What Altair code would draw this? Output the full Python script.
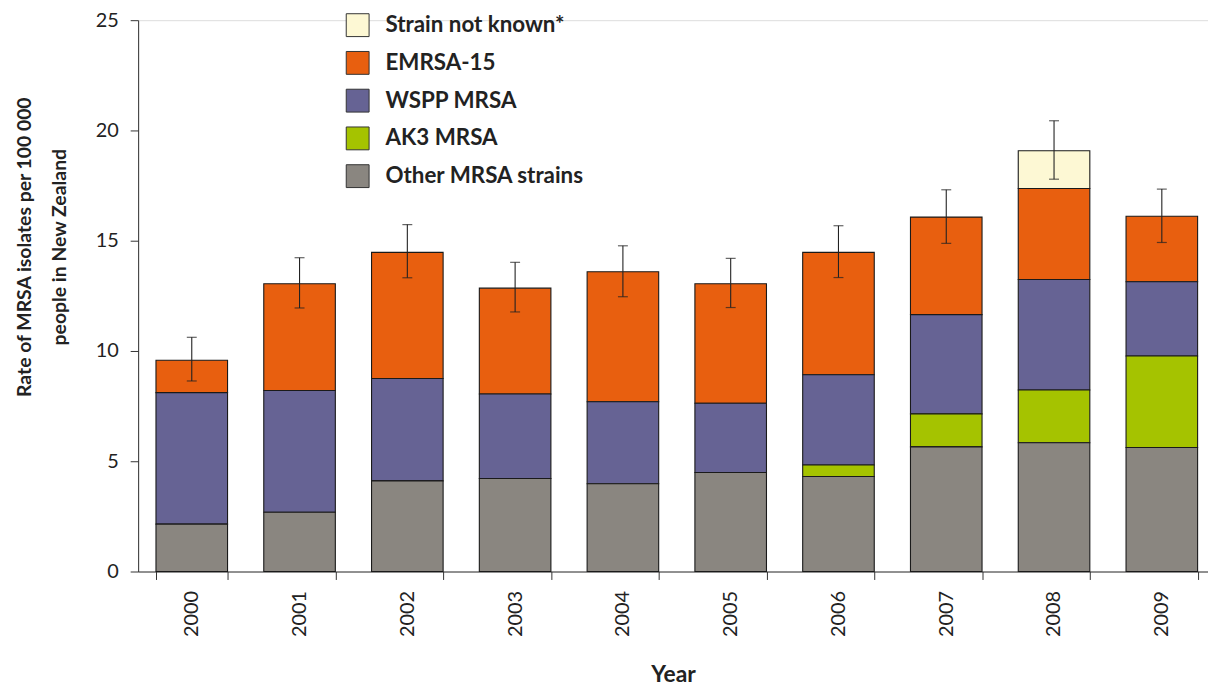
import altair as alt
import pandas as pd

years = ["2000", "2001", "2002", "2003", "2004", "2005", "2006", "2007", "2008", "2009"]
other = [2.15, 2.69, 4.11, 4.22, 3.98, 4.49, 4.31, 5.65, 5.84, 5.62]
ak3 = [0, 0, 0, 0, 0, 0, 0.52, 1.50, 2.39, 4.15]
wspp = [5.96, 5.52, 4.64, 3.83, 3.72, 3.14, 4.09, 4.50, 5.01, 3.37]
emrsa = [1.47, 4.84, 5.72, 4.80, 5.89, 5.42, 5.55, 4.42, 4.13, 2.97]
unknown = [0, 0, 0, 0, 0, 0, 0, 0, 1.71, 0]
err_low = [8.64, 11.95, 13.32, 11.77, 12.46, 11.97, 13.33, 14.88, 17.79, 14.92]
err_high = [10.62, 14.23, 15.73, 14.02, 14.77, 14.20, 15.68, 17.31, 20.44, 17.34]

series_names = ["Strain not known*", "EMRSA-15", "WSPP MRSA", "AK3 MRSA", "Other MRSA strains"]
series_colors = ["#FDF8D4", "#E85F0F", "#666394", "#A5C300", "#8A8680"]
stack_rank = {"Other MRSA strains": 0, "AK3 MRSA": 1, "WSPP MRSA": 2, "EMRSA-15": 3, "Strain not known*": 4}

rows = []
for name, vals in zip(series_names, [unknown, emrsa, wspp, ak3, other]):
    for y, v in zip(years, vals):
        if v > 0:
            rows.append({"Year": y, "Strain": name, "Rate": v, "rank": stack_rank[name]})
df = pd.DataFrame(rows)
err = pd.DataFrame({"Year": years, "low": err_low, "high": err_high})

FONT = "Lato"
xscale = alt.Scale(domain=years, paddingInner=0.336, paddingOuter=0.131, align=0.632)
xenc = alt.X("Year:N", scale=xscale,
             axis=alt.Axis(title="Year", labelAngle=270, tickBand="extent", tickSize=8,
                           labelPadding=11, titlePadding=27, labelFontSize=20,
                           titleFontSize=23, titleFontWeight="bold", labelColor="#222",
                           titleColor="#222", domainColor="#333", tickColor="#333"))

bars = alt.Chart(df).mark_bar(stroke="#1a1a1a", strokeWidth=1.1, opacity=1).encode(
    x=xenc,
    y=alt.Y("sum(Rate):Q", scale=alt.Scale(domain=[0, 25], nice=False),
            axis=alt.Axis(title=["Rate of  MRSA isolates per 100 000", "people in New Zealand"],
                          values=[0, 5, 10, 15, 20, 25], grid=False, tickSize=8,
                          labelPadding=12, titlePadding=26, labelFontSize=20,
                          titleFontSize=19.5, titleFontWeight="bold", titleLineHeight=35,
                          titleY=228,
                          labelColor="#222", titleColor="#222", domainColor="#333",
                          tickColor="#333")),
    color=alt.Color("Strain:N", scale=alt.Scale(domain=series_names, range=series_colors),
                    legend=alt.Legend(title=None, orient="none", legendX=209, legendY=-7,
                                      symbolType="square", symbolSize=529,
                                      symbolStrokeColor="#333", symbolStrokeWidth=1,
                                      labelFontSize=22.5, labelFontWeight="bold",
                                      labelColor="#222", rowPadding=10, labelOffset=16,
                                      labelLimit=0, padding=0, symbolOpacity=1)),
    order=alt.Order("rank:Q", sort="ascending"),
)

rule = alt.Chart(err).mark_rule(color="#222", strokeWidth=1.1).encode(
    x=alt.X("Year:N", scale=xscale), y="low:Q", y2="high:Q")
cap_lo = alt.Chart(err).mark_tick(color="#222", size=10, thickness=1.2).encode(
    x=alt.X("Year:N", scale=xscale), y="low:Q")
cap_hi = alt.Chart(err).mark_tick(color="#222", size=10, thickness=1.2).encode(
    x=alt.X("Year:N", scale=xscale), y="high:Q")

chart = alt.layer(bars, rule, cap_lo, cap_hi).properties(
    width=1077, height=555,
    autosize=alt.AutoSizeParams(type="none"),
    padding={"left": 131, "top": 10, "right": 0, "bottom": 116},
).configure_view(stroke=None).configure(font=FONT)

chart.save("out.html", embed_options={"renderer": "svg", "actions": False})
